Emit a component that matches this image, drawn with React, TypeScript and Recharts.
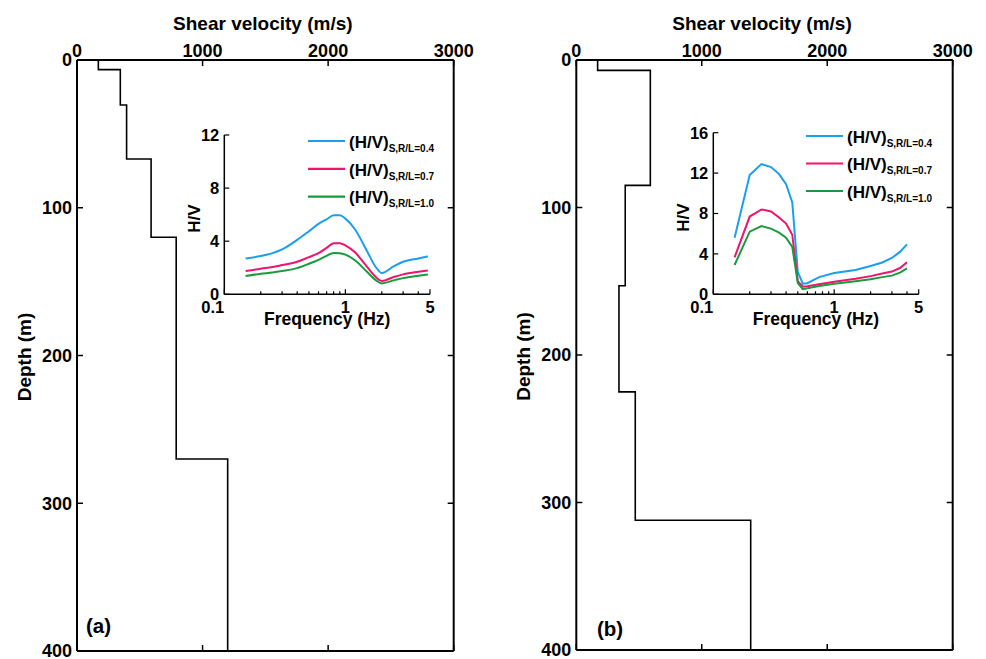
import React from 'react';
import { LineChart, Line, XAxis, YAxis, Legend, Label } from 'recharts';

const FONT = '"Liberation Sans", Arial, Helvetica, sans-serif';

// ---- Shear-wave velocity profiles (layer top depth in m, Vs in m/s) ----
const layerTopA = [0, 6.5, 30.5, 67, 120, 270];
const layerVsA = [170, 345, 395, 590, 790, 1200];
const layerTopB = [0, 7, 85, 153, 225, 312];
const layerVsB = [170, 590, 390, 340, 470, 1390];
const maxDepth = 400;

const velTicks = [0, 1000, 2000, 3000];
const depthTicks = [0, 100, 200, 300, 400];

// ---- H/V curves, inset (a) ----
const freqA = [0.15, 0.2, 0.25, 0.3, 0.4, 0.5, 0.6, 0.7, 0.8, 0.9, 1.0, 1.2, 1.5, 1.8, 2.0, 2.5, 3, 4, 4.8];
const hvA04 = [2.7, 2.88, 3.1, 3.38, 4.1, 4.75, 5.3, 5.65, 5.95, 5.95, 5.7, 4.9, 3.3, 2.0, 1.6, 2.1, 2.45, 2.7, 2.85];
const hvA07 = [1.75, 1.93, 2.05, 2.2, 2.45, 2.8, 3.1, 3.5, 3.85, 3.85, 3.69, 3.16, 2.1, 1.26, 1.0, 1.3, 1.5, 1.7, 1.8];
const hvA10 = [1.38, 1.55, 1.64, 1.75, 1.97, 2.3, 2.6, 2.9, 3.12, 3.1, 2.99, 2.56, 1.72, 1.03, 0.82, 1.05, 1.22, 1.4, 1.5];

// ---- H/V curves, inset (b) ----
const freqB = [0.15, 0.2, 0.25, 0.3, 0.35, 0.4, 0.45, 0.5, 0.55, 0.6, 0.75, 1.0, 1.5, 2.0, 2.5, 3.0, 3.5, 4.0];
const hvB04 = [5.6, 11.8, 12.9, 12.6, 11.9, 10.9, 9.1, 2.2, 1.05, 1.1, 1.7, 2.1, 2.4, 2.8, 3.15, 3.6, 4.2, 4.95];
const hvB07 = [3.66, 7.7, 8.4, 8.2, 7.6, 7.0, 5.9, 1.3, 0.75, 0.8, 1.0, 1.25, 1.55, 1.8, 2.05, 2.25, 2.6, 3.17];
const hvB10 = [2.9, 6.2, 6.76, 6.5, 6.1, 5.6, 4.7, 1.1, 0.5, 0.6, 0.82, 1.05, 1.3, 1.5, 1.7, 1.85, 2.15, 2.57];

const rlRatios = ['0.4', '0.7', '1.0'];
const seriesColors = ['#1a9ef0', '#f0146a', '#1a9a3c'];

const freqTicks = [0.1, 0.2, 0.3, 0.4, 0.5, 0.6, 0.7, 0.8, 0.9, 1, 2, 3, 4, 5];
const freqMajor = [0.1, 1, 5];
const hvTicksA = [0, 4, 8, 12];
const hvTicksB = [0, 4, 8, 12, 16];

function stepProfile(tops: number[], vs: number[], bottom: number) {
  const pts: { v: number; d: number }[] = [];
  vs.forEach((v, i) => {
    pts.push({ v, d: tops[i] });
    pts.push({ v, d: i + 1 < tops.length ? tops[i + 1] : bottom });
  });
  return pts;
}

function hvTable(freq: number[], a: number[], b: number[], c: number[]) {
  return freq.map((f, i) => ({ f, s0: a[i], s1: b[i], s2: c[i] }));
}

const profileA = stepProfile(layerTopA, layerVsA, maxDepth);
const profileB = stepProfile(layerTopB, layerVsB, maxDepth);
const insetA = hvTable(freqA, hvA04, hvA07, hvA10);
const insetB = hvTable(freqB, hvB04, hvB07, hvB10);

type Side = 'top' | 'bottom' | 'left' | 'right';
interface TickOpts {
  len: number;
  labels?: boolean;
  gap?: number;
  fontSize?: number;
  majors?: number[];
  minorLen?: number;
  firstEnd?: boolean;
  width?: number;
}

function tickRenderer(side: Side, o: TickOpts) {
  const { len, labels = true, gap = 5, fontSize = 18, majors, minorLen, firstEnd = false, width = 1.5 } = o;
  return (props: any) => {
    const { x, y, payload, index } = props;
    const v = payload.value;
    const isMajor = !majors || majors.some((m) => Math.abs(m - v) < 1e-9);
    const L = isMajor ? len : minorLen ?? len;
    let x2 = x;
    let y2 = y;
    if (side === 'top') y2 = y + L;
    if (side === 'bottom') y2 = y - L;
    if (side === 'left') x2 = x + L;
    if (side === 'right') x2 = x - L;
    const tp = { fontFamily: FONT, fontWeight: 700, fontSize, fill: '#000' } as any;
    let label: any = null;
    if (labels && isMajor) {
      if (side === 'top')
        label = (
          <text x={x} y={y - gap} textAnchor="middle" {...tp}>
            {v}
          </text>
        );
      if (side === 'bottom')
        label = (
          <text x={x} y={y + gap} textAnchor={firstEnd && index === 0 ? 'end' : 'middle'} {...tp}>
            {v}
          </text>
        );
      if (side === 'left')
        label = (
          <text x={x - gap} y={y} dy="0.36em" textAnchor="end" {...tp}>
            {v}
          </text>
        );
    }
    return (
      <g>
        <line x1={x} y1={y} x2={x2} y2={y2} stroke="#000" strokeWidth={width} />
        {label}
      </g>
    );
  };
}

const titleContent = (text: string) => (props: any) => {
  const vb = props.viewBox;
  return (
    <text x={vb.x + vb.width / 2 - 2.5} y={vb.y + 29.5} textAnchor="middle" fontFamily={FONT} fontWeight={700} fontSize={19} fill="#000">
      {text}
    </text>
  );
};

const vLabelContent = (text: string, dxFromAxis: number, dy: number, fontSize: number) => (props: any) => {
  const vb = props.viewBox;
  const x = vb.x + vb.width - dxFromAxis;
  const y = vb.y + vb.height / 2 + dy;
  return (
    <text x={x} y={y} transform={`rotate(-90 ${x} ${y})`} textAnchor="middle" fontFamily={FONT} fontWeight={700} fontSize={fontSize} fill="#000">
      {text}
    </text>
  );
};

const freqLabelContent = (props: any) => {
  const vb = props.viewBox;
  return (
    <text x={vb.x + vb.width / 2} y={vb.y + 30.3} textAnchor="middle" fontFamily={FONT} fontWeight={700} fontSize={17.5} fill="#000">
      Frequency (Hz)
    </text>
  );
};

const legendContent = (spacing: number) => (props: any) => {
  const payload = props.payload || [];
  return (
    <svg width={150} height={80} style={{ display: 'block', overflow: 'visible' }}>
      {payload.map((e: any, i: number) => {
        const ly = 8 + i * spacing;
        return (
          <g key={i}>
            <line x1={0} y1={ly} x2={37} y2={ly} stroke={e.color} strokeWidth={2.2} />
            <text x={41} y={ly + 6.7} fontFamily={FONT} fontWeight={700} fontSize={17} fill="#000">
              (H/V)
              <tspan fontSize={10} dy={4}>{`S,R/L=${e.value}`}</tspan>
            </text>
          </g>
        );
      })}
    </svg>
  );
};

function Profile(props: { data: { v: number; d: number }[]; width: number; yAxisW: number; right: number; bottom: number }) {
  const { data, width, yAxisW, right, bottom } = props;
  return (
    <LineChart width={width} height={659} data={data} margin={{ top: 0, right: right - 1, bottom: bottom - 1, left: 0 }}>
      <XAxis
        dataKey="v"
        type="number"
        orientation="top"
        domain={[0, 3000]}
        allowDataOverflow
        ticks={velTicks}
        interval={0}
        height={60}
        tickSize={0}
        tickMargin={0}
        tickLine={false}
        axisLine={{ stroke: '#000', strokeWidth: 2 }}
        tick={tickRenderer('top', { len: 6, gap: 3, fontSize: 18 })}
      >
        <Label content={titleContent('Shear velocity (m/s)')} />
      </XAxis>
      <XAxis
        xAxisId="b"
        dataKey="v"
        type="number"
        orientation="bottom"
        domain={[0, 3000]}
        allowDataOverflow
        ticks={velTicks}
        interval={0}
        height={1}
        tickSize={0}
        tickMargin={0}
        tickLine={false}
        axisLine={{ stroke: '#000', strokeWidth: 2 }}
        tick={tickRenderer('bottom', { len: 6, labels: false })}
      />
      <YAxis
        type="number"
        reversed
        domain={[0, maxDepth]}
        allowDataOverflow
        ticks={depthTicks}
        interval={0}
        width={yAxisW}
        tickSize={0}
        tickMargin={0}
        tickLine={false}
        axisLine={{ stroke: '#000', strokeWidth: 2 }}
        tick={tickRenderer('left', { len: 6, gap: 5, fontSize: 18 })}
      >
        <Label content={vLabelContent('Depth (m)', 46, 1.5, 19)} />
      </YAxis>
      <YAxis
        yAxisId="r"
        type="number"
        orientation="right"
        reversed
        domain={[0, maxDepth]}
        allowDataOverflow
        ticks={depthTicks}
        interval={0}
        width={1}
        tickSize={0}
        tickMargin={0}
        tickLine={false}
        axisLine={{ stroke: '#000', strokeWidth: 2 }}
        tick={tickRenderer('right', { len: 6, labels: false })}
      />
      <Line type="linear" dataKey="d" stroke="#000" strokeWidth={1.6} dot={false} isAnimationActive={false} />
    </LineChart>
  );
}

function Inset(props: {
  data: any[];
  width: number;
  height: number;
  margin: any;
  yAxisW: number;
  xAxisH: number;
  yMax: number;
  yTicks: number[];
  legendLeft: number;
  legendTop: number;
  legendSpacing: number;
  curve: 'linear' | 'monotone';
}) {
  const p = props;
  return (
    <LineChart width={p.width} height={p.height} data={p.data} margin={p.margin}>
      <XAxis
        dataKey="f"
        type="number"
        scale="log"
        domain={[0.1, 5]}
        allowDataOverflow
        ticks={freqTicks}
        interval={0}
        height={p.xAxisH}
        tickSize={0}
        tickMargin={0}
        tickLine={false}
        axisLine={{ stroke: '#000', strokeWidth: 1.5 }}
        tick={tickRenderer('bottom', { len: 5, minorLen: 3, majors: freqMajor, gap: 18.7, fontSize: 16.5, firstEnd: true, width: 1.2 })}
      >
        <Label content={freqLabelContent} />
      </XAxis>
      <YAxis
        type="number"
        domain={[0, p.yMax]}
        allowDataOverflow
        ticks={p.yTicks}
        interval={0}
        width={p.yAxisW}
        tickSize={0}
        tickMargin={0}
        tickLine={false}
        axisLine={{ stroke: '#000', strokeWidth: 1.5 }}
        tick={tickRenderer('left', { len: 5, gap: 5, fontSize: 16.5, width: 1.2 })}
      >
        <Label content={vLabelContent('H/V', 24, 4, 17)} />
      </YAxis>
      <Legend
        layout="vertical"
        align="center"
        verticalAlign="middle"
        wrapperStyle={{ left: p.legendLeft, top: p.legendTop, width: 'auto', height: 'auto' }}
        content={legendContent(p.legendSpacing)}
      />
      {['s0', 's1', 's2'].map((k, i) => (
        <Line
          key={k}
          type={p.curve}
          dataKey={k}
          name={rlRatios[i]}
          stroke={seriesColors[i]}
          strokeWidth={2}
          dot={false}
          isAnimationActive={false}
        />
      ))}
    </LineChart>
  );
}

export default function App() {
  const abs = (left: number, top: number): React.CSSProperties => ({ position: 'absolute', left, top });
  return (
    <div style={{ position: 'absolute', left: 0, top: 0, width: 986, height: 659, background: '#fff', fontFamily: FONT }}>
      <div style={abs(0, 0)}>
        <Profile data={profileA} width={490} yAxisW={77} right={36.3} bottom={8} />
      </div>
      <div style={abs(490, 0)}>
        <Profile data={profileB} width={496} yAxisW={86.3} right={33.3} bottom={9} />
      </div>
      <div style={abs(150, 110)}>
        <Inset
          data={insetA}
          width={300}
          height={230}
          margin={{ top: 25, right: 20, bottom: 0, left: 0 }}
          yAxisW={74.3}
          xAxisH={45.7}
          yMax={12}
          yTicks={hvTicksA}
          legendLeft={158.3}
          legendTop={22.7}
          legendSpacing={27.8}
          curve="monotone"
        />
      </div>
      <div style={abs(640, 105)}>
        <Inset
          data={insetB}
          width={300}
          height={235}
          margin={{ top: 27.7, right: 21.3, bottom: 0, left: 0 }}
          yAxisW={73.3}
          xAxisH={45.7}
          yMax={16}
          yTicks={hvTicksB}
          legendLeft={166}
          legendTop={23}
          legendSpacing={27.5}
          curve="linear"
        />
      </div>
      <svg width={986} height={659} style={{ position: 'absolute', left: 0, top: 0, pointerEvents: 'none' }}>
        <text x={86} y={632.5} fontFamily={FONT} fontWeight={700} fontSize={20.5} fill="#000">(a)</text>
        <text x={597} y={636} fontFamily={FONT} fontWeight={700} fontSize={20.5} fill="#000">(b)</text>
      </svg>
    </div>
  );
}
